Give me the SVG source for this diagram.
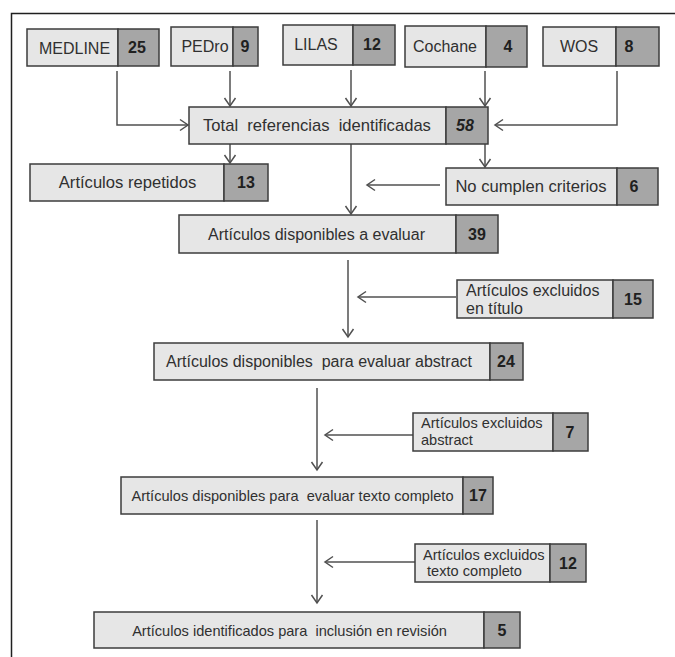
<svg xmlns="http://www.w3.org/2000/svg" width="675" height="657" viewBox="0 0 675 657">
<style>
.lb{fill:#e6e6e6;stroke:#3c3c3c;stroke-width:1.5}
.nb{fill:#a6a6a6;stroke:#3c3c3c;stroke-width:1.5}
.t{font-family:"Liberation Sans",Arial,sans-serif;font-size:16px;fill:#303030}
.c{text-anchor:middle}
.s{font-size:14.6px}
.l{font-size:16.6px}
.n{font-family:"Liberation Sans",Arial,sans-serif;font-size:16px;font-weight:bold;fill:#202020;text-anchor:middle}
.ln{fill:none;stroke:#505050;stroke-width:1.5}
</style>
<defs>
<marker id="ah" markerUnits="userSpaceOnUse" markerWidth="12" markerHeight="14" refX="9" refY="7" orient="auto">
<path d="M1,1.5 L9,7 L1,12.5" fill="none" stroke="#505050" stroke-width="1.5"/>
</marker>
</defs>
<rect width="675" height="657" fill="#ffffff"/>
<path d="M11.5,657 V13.5 H675" fill="none" stroke="#202020" stroke-width="1.5"/>

<g id="connectors">
<path class="ln" d="M117,71 V125 H188" marker-end="url(#ah)"/>
<path class="ln" d="M230,71 V106" marker-end="url(#ah)"/>
<path class="ln" d="M351,70 V106" marker-end="url(#ah)"/>
<path class="ln" d="M485,71 V106" marker-end="url(#ah)"/>
<path class="ln" d="M617,71 V125 H495" marker-end="url(#ah)"/>
<path class="ln" d="M230,144 V163" marker-end="url(#ah)"/>
<path class="ln" d="M485,144 V167" marker-end="url(#ah)"/>
<path class="ln" d="M351,144 V214" marker-end="url(#ah)"/>
<path class="ln" d="M440,185 H367" marker-end="url(#ah)"/>
<path class="ln" d="M348,260 V337" marker-end="url(#ah)"/>
<path class="ln" d="M456,297 H358" marker-end="url(#ah)"/>
<path class="ln" d="M317,388 V470" marker-end="url(#ah)"/>
<path class="ln" d="M413,435 H325" marker-end="url(#ah)"/>
<path class="ln" d="M317,520 V603" marker-end="url(#ah)"/>
<path class="ln" d="M415,562 H325" marker-end="url(#ah)"/>
</g>

<g id="medline">
<rect class="lb" x="27" y="29" width="91" height="37"/><rect class="nb" x="118" y="29" width="41" height="37"/>
<text class="t c" x="74.5" y="53.5" font-size="17">MEDLINE</text><text class="n" x="137" y="53">25</text>
</g>
<g id="pedro">
<rect class="lb" x="171" y="27" width="62" height="39"/><rect class="nb" x="233" y="27" width="25" height="39"/>
<text class="t c" x="205" y="52" font-size="17">PEDro</text><text class="n" x="245" y="52">9</text>
</g>
<g id="lilas">
<rect class="lb" x="283" y="25" width="70" height="40"/><rect class="nb" x="353" y="25" width="42" height="40"/>
<text class="t c" x="316" y="50">LILAS</text><text class="n" x="372" y="50">12</text>
</g>
<g id="cochane">
<rect class="lb" x="405" y="26" width="81" height="41"/><rect class="nb" x="486" y="26" width="41" height="41"/>
<text class="t c" x="445" y="52">Cochane</text><text class="n" x="508" y="52">4</text>
</g>
<g id="wos">
<rect class="lb" x="543" y="27" width="73" height="39"/><rect class="nb" x="616" y="27" width="43" height="39"/>
<text class="t c" x="579" y="52">WOS</text><text class="n" x="629" y="52">8</text>
</g>
<g id="total">
<rect class="lb" x="189" y="107" width="257" height="37"/><rect class="nb" x="446" y="107" width="42" height="37"/>
<text class="t c l" x="317" y="131" xml:space="preserve">Total  referencias  identificadas</text><text class="n" x="465" y="131" font-style="italic">58</text>
</g>
<g id="repetidos">
<rect class="lb" x="30" y="164" width="194" height="37"/><rect class="nb" x="224" y="164" width="44" height="37"/>
<text class="t c l" x="127.5" y="188">Artículos repetidos</text><text class="n" x="246" y="188">13</text>
</g>
<g id="nocumplen">
<rect class="lb" x="446" y="168" width="171" height="37"/><rect class="nb" x="617" y="168" width="41" height="37"/>
<text class="t c l" x="531" y="192">No cumplen criterios</text><text class="n" x="634" y="192">6</text>
</g>
<g id="disponibles">
<rect class="lb" x="179" y="215" width="277" height="38"/><rect class="nb" x="456" y="215" width="42" height="38"/>
<text class="t c" x="316.5" y="240" font-size="16.3">Artículos disponibles a evaluar</text><text class="n" x="477" y="240">39</text>
</g>
<g id="excl-titulo">
<rect class="lb" x="457" y="280" width="156" height="38"/><rect class="nb" x="613" y="280" width="40" height="38"/>
<text class="t" x="466" y="296" font-size="16.3">Artículos excluidos</text><text class="t" x="466" y="314" font-size="16.3">en título</text>
<text class="n" x="633" y="305">15</text>
</g>
<g id="abstract">
<rect class="lb" x="154" y="343" width="336" height="37"/><rect class="nb" x="490" y="343" width="33" height="37"/>
<text class="t c" x="319" y="367" font-size="16.4" xml:space="preserve">Artículos disponibles  para evaluar abstract</text><text class="n" x="506" y="367">24</text>
</g>
<g id="excl-abstract">
<rect class="lb" x="413" y="413" width="140" height="38"/><rect class="nb" x="553" y="413" width="35" height="38"/>
<text class="t s" x="421" y="428">Artículos excluidos</text><text class="t s" x="421" y="445">abstract</text>
<text class="n" x="570" y="438">7</text>
</g>
<g id="texto">
<rect class="lb" x="121" y="477" width="342" height="37"/><rect class="nb" x="463" y="477" width="30" height="37"/>
<text class="t c s" x="292.5" y="501" xml:space="preserve">Artículos disponibles para  evaluar texto completo</text><text class="n" x="478" y="501">17</text>
</g>
<g id="excl-texto">
<rect class="lb" x="415" y="544" width="135" height="38"/><rect class="nb" x="550" y="544" width="36" height="38"/>
<text class="t s" x="423" y="560">Artículos excluidos</text><text class="t s" x="423" y="576" xml:space="preserve"> texto completo</text>
<text class="n" x="568" y="569">12</text>
</g>
<g id="final">
<rect class="lb" x="94" y="612" width="390" height="36"/><rect class="nb" x="484" y="612" width="36" height="36"/>
<text class="t c s" x="289.5" y="636" xml:space="preserve">Artículos identificados para  inclusión en revisión</text><text class="n" x="502" y="636">5</text>
</g>
</svg>
